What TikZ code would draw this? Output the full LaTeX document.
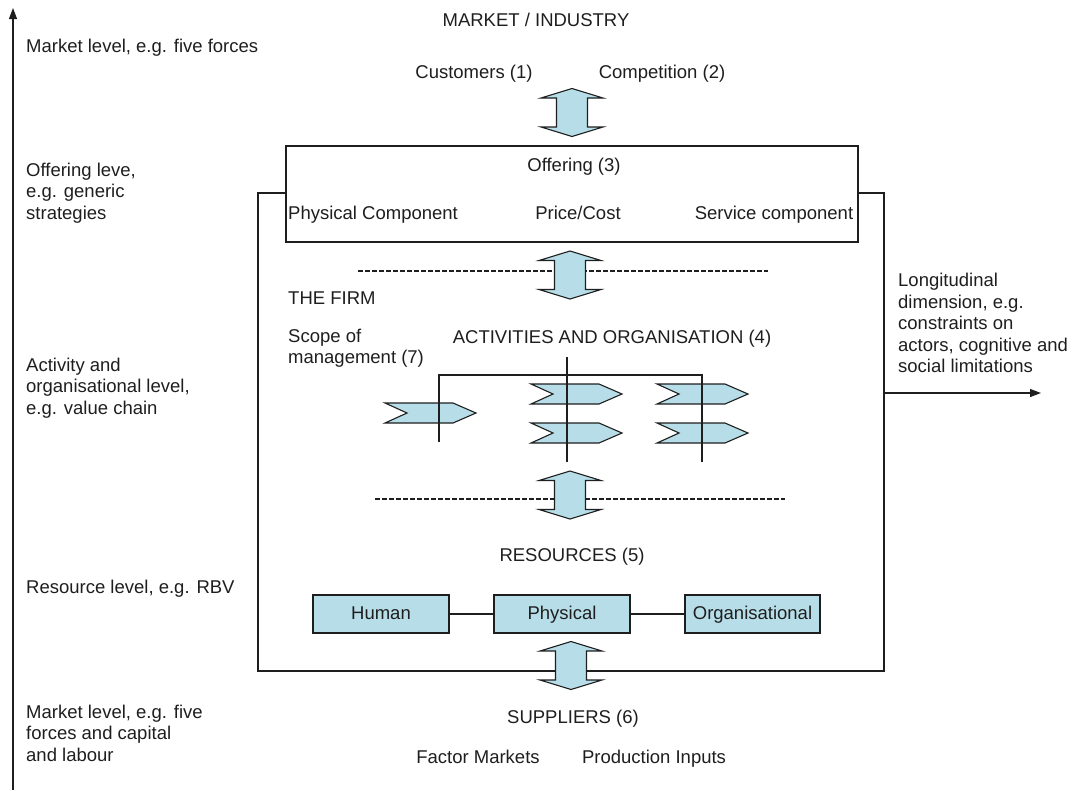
\documentclass[tikz,border=0pt]{standalone}
\usepackage{fontspec}
\setmainfont{Liberation Sans}
\usetikzlibrary{arrows.meta}
\definecolor{ink}{HTML}{1E1E1E}
\definecolor{aqua}{HTML}{B7DEE8}
\tikzset{
  every node/.style={text=ink, font=\fontsize{18.5}{21.5}\selectfont},
  lbl/.style={inner sep=0pt, text height=13.5pt, text depth=3.5pt},
  mlbl/.style={inner sep=0pt, align=left, anchor=west},
  frame/.style={draw=ink, line width=1.1pt},
  resbox/.style={draw=ink, line width=1.1pt, fill=aqua, minimum width=136pt, minimum height=38pt, inner sep=0pt, text height=13.5pt, text depth=3.5pt},
  guide/.style={draw=ink, line width=1.2pt, dash pattern=on 4.5pt off 2.5pt},
  axis/.style={draw=ink, line width=1.1pt, -{Triangle[length=11pt,width=8pt]}},
  pics/updown/.style={code={
    \draw[ink, line width=1.1pt, fill=aqua, line join=miter]
      (0,-24) -- (31,-14.5) -- (15.5,-14.5) -- (15.5,14.5) -- (31,14.5) -- (0,24)
      -- (-31,14.5) -- (-15.5,14.5) -- (-15.5,-14.5) -- (-31,-14.5) -- cycle;
  }},
  pics/chev/.style={code={
    \draw[ink, line width=1.1pt, fill=aqua, line join=miter]
      (0,0) -- (68,0) -- (91,10) -- (68,20) -- (0,20) -- (22,10) -- cycle;
  }}
}
\begin{document}
\begin{tikzpicture}[x=1pt, y=-1pt]
\useasboundingbox (0,0) rectangle (1078,790);

% vertical level axis and its labels
\coordinate (axlo) at (13,790);
\coordinate (axhi) at (13,8);
\draw[axis] (axlo) -- (axhi);
\node[mlbl] (lvmarket) at (26,48) {Market level, e.g. five forces};
\node[mlbl] (lvoffer) at (26,193) {Offering leve,\\e.g. generic\\strategies};
\node[mlbl] (lvact) at (26,388) {Activity and\\organisational level,\\e.g. value chain};
\node[mlbl] (lvres) at (26,589) {Resource level, e.g. RBV};
\node[mlbl] (lvsup) at (26,733) {Market level, e.g. five\\forces and capital\\and labour};

% market
\node[lbl] (market) at (536,21) {MARKET / INDUSTRY};
\node[lbl] (cust) at (474,73) {Customers (1)};
\node[lbl] (comp) at (662,73) {Competition (2)};
\pic at (572,112.5) {updown};

% the firm's outer frame
\draw[frame] (287,193) -- (258,193) -- (258,671) -- (884,671) -- (884,193) -- (858,193);

% offering box
\node[draw=ink, line width=1.1pt, fill=white, minimum width=572pt, minimum height=96pt, inner sep=0pt] (offering) at (572,194) {};
\node[lbl] (offtitle) at (574,166) {Offering (3)};
\node[lbl, anchor=west] (physcomp) at (288,214) {Physical Component};
\node[lbl] (price) at (578,214) {Price/Cost};
\node[lbl] (servcomp) at (774,214) {Service component};

% boundary between offering and activities
\draw[guide] (358,271) -- (768,271);
\pic at (570,275) {updown};

% activities
\node[lbl, anchor=west] (firm) at (288,299) {THE FIRM};
\node[mlbl] (scope) at (288,348) {Scope of\\management (7)};
\node[lbl] (acts) at (612,338) {ACTIVITIES AND ORGANISATION (4)};

\pic at (385,403) {chev};
\pic at (531,384) {chev};
\pic at (531,423) {chev};
\pic at (657,384) {chev};
\pic at (657,423) {chev};

% scope of management bracket
\draw[frame] (439,442) -- (439,375) -- (702,375) -- (702,462);
\draw[frame] (567,357) -- (567,462);

% boundary between activities and resources
\draw[guide] (375,499) -- (785,499);
\pic at (570,495) {updown};

% resources
\node[lbl] (resources) at (572,556) {RESOURCES (5)};
\node[resbox] (human) at (381,614) {Human};
\node[resbox] (physical) at (562,614) {Physical};
\node[resbox, minimum width=135pt] (organ) at (752.5,614) {Organisational};
\draw[frame] (human) -- (physical);
\draw[frame] (physical) -- (organ);

% suppliers
\pic at (571,665.5) {updown};
\node[lbl] (suppliers) at (573,718) {SUPPLIERS (6)};
\node[lbl] (factor) at (478,758) {Factor Markets};
\node[lbl] (inputs) at (654,758) {Production Inputs};

% longitudinal dimension
\coordinate (lonfrom) at (884,393);
\coordinate (lonto) at (1041,393);
\draw[axis] (lonfrom) -- (lonto);
\node[mlbl] (longi) at (898,323) {Longitudinal\\dimension, e.g.\\constraints on\\actors, cognitive and\\social limitations};
\end{tikzpicture}
\end{document}
